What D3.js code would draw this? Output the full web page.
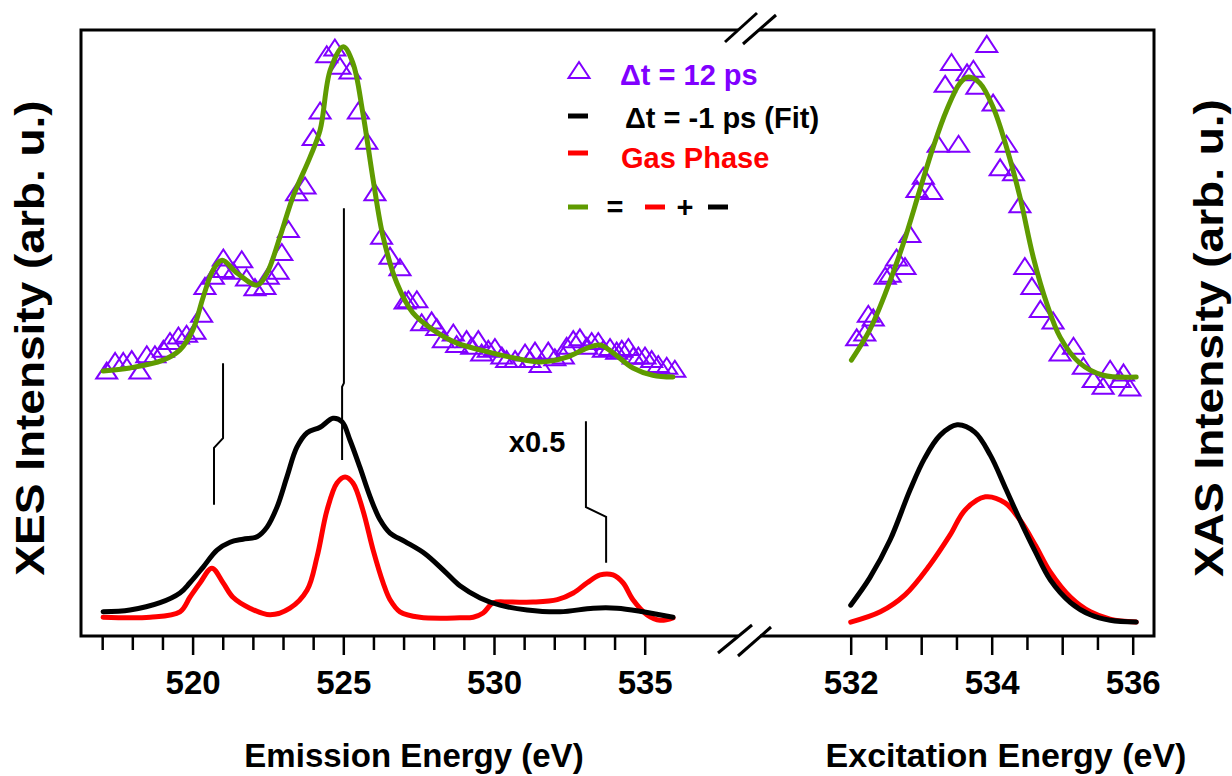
<!DOCTYPE html>
<html><head><meta charset="utf-8">
<script src="https://cdn.jsdelivr.net/npm/d3@7/dist/d3.min.js"></script>
<style>body{margin:0;background:#fff}svg{display:block}text{font-family:"Liberation Sans",Arial,sans-serif;font-weight:bold}</style>
</head><body>
<svg id="c" width="1232" height="776"></svg>
<script>
// ---------- data (energy eV, intensity arb. u. 0-100) ----------
const xesTicksMajor = [520, 525, 530, 535];
const xesTicksMinor = [517,518,519,521,522,523,524,526,527,528,529,531,532,533,534];
const xasTicksMajor = [532, 533, 534, 535, 536];
const xasTicksMinor = [532.5, 533.5, 534.5, 535.5];
const xasTickLabels = [532, 534, 536];

const xes12ps = [[517.15,43.7],[517.43,45.3],[517.70,45.3],[517.98,45.6],[518.25,43.7],[518.48,46.4],[518.75,46.4],[519.03,47.3],[519.25,48.6],[519.53,49.5],[519.80,49.8],[520.08,50.3],[520.30,53.1],[520.41,57.7],[520.69,59.4],[521.02,62.4],[521.02,60.5],[521.35,60.2],[521.63,62.1],[521.79,59.1],[522.07,57.5],[522.40,57.7],[522.51,59.4],[522.84,60.2],[522.96,63.3],[523.18,67.1],[523.45,73.2],[523.73,74.3],[524.00,82.3],[524.23,86.7],[524.45,96.0],[524.72,97.1],[524.89,94.1],[525.22,93.3],[525.50,86.7],[525.78,81.7],[526.05,73.2],[526.27,66.0],[526.55,62.7],[526.88,60.8],[527.05,55.3],[527.16,55.5],[527.44,55.5],[527.60,51.7],[527.93,52.0],[528.10,50.9],[528.32,48.9],[528.65,50.0],[528.76,48.1],[529.09,48.9],[529.26,47.8],[529.48,48.9],[529.59,46.7],[529.81,47.3],[530.03,47.6],[530.26,46.2],[530.42,45.6],[530.70,45.6],[531.03,46.7],[531.19,45.6],[531.36,47.0],[531.53,44.8],[531.80,47.0],[532.02,45.9],[532.30,46.2],[532.41,47.8],[532.63,48.9],[532.85,49.2],[533.08,47.8],[533.24,48.6],[533.46,48.6],[533.63,47.3],[533.85,47.6],[534.07,47.0],[534.24,47.3],[534.46,47.6],[534.62,46.2],[534.79,46.2],[535.01,46.2],[535.23,45.6],[535.45,44.8],[535.73,44.5],[536.00,44.0]];

const xesSum = [[517.03,43.8],[517.92,44.3],[519.02,45.6],[519.58,47.3],[520.01,50.6],[520.35,56.0],[520.68,60.5],[520.98,62.1],[521.47,60.0],[522.14,58.0],[522.47,60.0],[522.90,66.0],[523.33,72.6],[523.90,79.2],[524.23,83.6],[524.57,93.6],[525.00,97.4],[525.32,94.7],[525.65,86.4],[525.99,75.4],[526.32,66.0],[526.78,58.3],[527.31,53.4],[527.98,50.6],[528.77,48.4],[529.54,47.3],[530.53,46.1],[531.53,45.3],[532.42,46.1],[533.09,47.6],[533.52,48.1],[533.95,46.8],[534.61,44.3],[535.27,43.1],[535.94,42.8]];

const xesMinus1 = [[517.03,4.0],[517.92,4.3],[518.92,5.5],[519.58,7.1],[519.91,8.8],[520.35,11.4],[520.81,14.2],[521.24,15.5],[521.67,16.0],[522.14,16.4],[522.47,18.0],[522.80,21.3],[523.13,26.3],[523.46,31.2],[523.80,33.6],[524.23,34.5],[524.66,36.0],[524.96,35.4],[525.22,32.4],[525.55,27.9],[525.89,23.0],[526.22,19.2],[526.55,17.0],[527.05,15.6],[527.71,13.6],[528.38,10.6],[528.87,8.3],[529.54,6.3],[530.20,5.1],[531.10,4.3],[532.19,4.0],[533.29,4.6],[534.08,4.6],[534.95,4.0],[535.94,3.1]];

const xesGas = [[517.03,3.1],[518.59,3.1],[519.58,4.0],[519.91,6.4],[520.25,8.8],[520.64,11.2],[521.01,8.8],[521.34,6.4],[521.90,4.6],[522.57,3.5],[523.23,4.6],[523.80,7.6],[524.13,13.1],[524.46,20.8],[524.79,25.3],[525.06,26.3],[525.32,25.3],[525.65,20.8],[525.99,14.2],[526.32,8.8],[526.55,6.0],[526.88,4.0],[527.54,3.1],[528.87,3.0],[529.31,3.1],[529.64,3.8],[529.98,5.5],[530.54,5.6],[531.30,5.6],[532.10,6.0],[532.63,7.1],[533.09,8.8],[533.52,10.1],[533.95,10.1],[534.28,8.8],[534.61,6.0],[535.08,3.5],[535.51,2.6],[535.94,3.0]];

const xas12ps = [[532.085,49.2],[532.20,50.0],[532.25,53.1],[532.32,52.5],[532.49,59.4],[532.56,59.7],[532.65,62.4],[532.77,61.0],[532.84,66.3],[532.94,73.7],[533.03,75.9],[533.15,73.4],[533.24,81.2],[533.34,91.1],[533.43,94.7],[533.53,81.2],[533.65,93.0],[533.74,93.6],[533.79,90.8],[533.93,97.7],[534.02,88.0],[534.12,77.3],[534.21,81.2],[534.31,76.5],[534.40,71.2],[534.47,61.0],[534.57,57.7],[534.69,53.9],[534.87,52.0],[534.97,46.7],[535.16,47.8],[535.30,44.5],[535.44,42.3],[535.58,41.2],[535.68,44.0],[535.82,42.3],[535.87,43.4],[535.96,40.9]];

const xasSum = [[532.01,45.6],[532.27,50.6],[532.51,57.2],[532.75,65.0],[532.98,73.7],[533.17,80.8],[533.36,86.9],[533.55,91.4],[533.67,92.4],[533.83,91.4],[534.02,87.4],[534.21,80.8],[534.40,72.6],[534.59,62.6],[534.78,55.0],[534.97,49.4],[535.25,45.1],[535.58,43.1],[536.05,42.8]];

const xasMinus1 = [[532.00,5.1],[532.27,9.6],[532.56,15.9],[532.84,24.1],[533.05,29.4],[533.27,33.2],[533.51,34.9],[533.76,33.7],[533.98,29.9],[534.19,24.6],[534.40,19.2],[534.62,13.9],[534.83,9.3],[535.12,5.5],[535.40,3.5],[535.68,2.6],[536.05,2.3]];

const xasGas = [[532.00,2.3],[532.42,4.0],[532.77,6.8],[533.12,11.7],[533.41,16.7],[533.62,20.8],[533.91,23.0],[534.19,22.0],[534.40,19.2],[534.62,15.0],[534.83,10.6],[535.12,6.4],[535.40,4.0],[535.68,2.8],[536.05,2.3]];

// reference stick annotations (energy, intensity)
const sticks = [
  [[521.01,45.1],[521.01,32.7],[520.71,31.1],[520.71,21.7]],
  [[525.02,70.7],[525.02,41.8],[524.96,41.2],[524.96,29.1]],
  [[533.05,35.5],[533.05,21.3],[533.72,19.7],[533.72,12.1]]
];
const scaleNote = {label: "x0.5", e: 531.43, v: 30.4};

const legendItems = ["\u0394t = 12 ps", "\u0394t = -1 ps (Fit)", "Gas Phase"];
const xTitleL = "Emission Energy (eV)", xTitleR = "Excitation Energy (eV)";
const yTitleL = "XES Intensity (arb. u.)", yTitleR = "XAS Intensity (arb. u.)";

// ---------- drawing ----------
const PURPLE = "#8000ff", RED = "#ff0000", GREEN = "#5f9b00", BLACK = "#000";
const svg = d3.select("#c");
const fT = 30, fB = 636, fL = 81, fR = 1154;
const xL = d3.scaleLinear().domain([520, 535]).range([192.6, 644.7]);
const xR = d3.scaleLinear().domain([532, 536]).range([850.7, 1132.7]);
const y = d3.scaleLinear().domain([0, 100]).range([fB, fT + 1]);

// frame with break
svg.append("path").attr("fill","none").attr("stroke",BLACK).attr("stroke-width",3)
  .attr("d",`M738,${fT}H${fL}V${fB}H738`);
svg.append("path").attr("fill","none").attr("stroke",BLACK).attr("stroke-width",3)
  .attr("d",`M759,${fT}H${fR}V${fB}H760`);
[[725,42,757,13],[743,44,776,15],[718,653,752,625],[738,656,771,627]].forEach(s=>{
  svg.append("line").attr("x1",s[0]).attr("y1",s[1]).attr("x2",s[2]).attr("y2",s[3])
    .attr("stroke",BLACK).attr("stroke-width",3);
});

function ticks(scale, vals, len, labels){
  const g = svg.append("g").attr("transform",`translate(0,${fB})`)
    .call(d3.axisBottom(scale).tickValues(vals).tickSize(len).tickPadding(16)
      .tickFormat(d => labels && labels.includes(d) ? d3.format("d")(d) : ""));
  g.select(".domain").remove();
  g.selectAll(".tick line").attr("stroke",BLACK).attr("stroke-width",2.5);
  g.selectAll(".tick text").attr("fill",BLACK).style("font-size","33px").style("font-weight","bold")
    .style("font-family",'"Liberation Sans",Arial,sans-serif');
}
ticks(xL, xesTicksMajor, 19, xesTicksMajor);
ticks(xL, xesTicksMinor, 14, null);
ticks(xR, xasTicksMajor, 19, xasTickLabels);
ticks(xR, xasTicksMinor, 14, null);

// axis titles
svg.append("text").attr("x",414).attr("y",767).attr("text-anchor","middle").style("font-size","33px").text(xTitleL);
svg.append("text").attr("x",1006).attr("y",767).attr("text-anchor","middle").style("font-size","34px").text(xTitleR);
svg.append("text").attr("transform","translate(44,338) rotate(-90) scale(1.15,1)").attr("text-anchor","middle").style("font-size","40px").text(yTitleL);
svg.append("text").attr("transform","translate(1223,338) rotate(-90) scale(1.15,1)").attr("text-anchor","middle").style("font-size","40px").text(yTitleR);

// curves
function curve(xs, data, color, w){
  svg.append("path").datum(data).attr("fill","none").attr("stroke",color).attr("stroke-width",w)
    .attr("stroke-linejoin","round").attr("stroke-linecap","round")
    .attr("d", d3.line().x(d=>xs(d[0])).y(d=>y(d[1])).curve(d3.curveCatmullRom.alpha(0.5)));
}
// sticks
sticks.forEach(s=>{
  svg.append("path").datum(s).attr("fill","none").attr("stroke",BLACK).attr("stroke-width",2)
    .attr("d", d3.line().x(d=>xL(d[0])).y(d=>y(d[1])));
});
svg.append("text").attr("x",xL(scaleNote.e)).attr("y",y(scaleNote.v)).attr("text-anchor","middle")
  .style("font-size","29px").text(scaleNote.label);

curve(xL, xesGas, RED, 5);
curve(xL, xesMinus1, BLACK, 5);
curve(xR, xasGas, RED, 5);
curve(xR, xasMinus1, BLACK, 5);

const tri = "M0,-9L10.5,7L-10.5,7Z";
function markers(xs, data){
  svg.append("g").selectAll("path").data(data).join("path")
    .attr("d",tri).attr("fill","none").attr("stroke",PURPLE).attr("stroke-width",2)
    .attr("transform",d=>`translate(${xs(d[0])},${y(d[1])})`);
}
markers(xL, xes12ps);
markers(xR, xas12ps);
curve(xL, xesSum, GREEN, 5);
curve(xR, xasSum, GREEN, 5);

// legend
const lg = svg.append("g");
lg.append("path").attr("d",tri).attr("fill","none").attr("stroke",PURPLE).attr("stroke-width",2)
  .attr("transform","translate(579,71)");
lg.append("text").attr("x",620).attr("y",85).attr("fill",PURPLE).style("font-size","29px").text(legendItems[0]);
lg.append("line").attr("x1",568).attr("x2",588).attr("y1",116).attr("y2",116).attr("stroke",BLACK).attr("stroke-width",5);
lg.append("text").attr("x",625).attr("y",128).attr("fill",BLACK).style("font-size","29px").text(legendItems[1]);
lg.append("line").attr("x1",568).attr("x2",588).attr("y1",153).attr("y2",153).attr("stroke",RED).attr("stroke-width",5);
lg.append("text").attr("x",621).attr("y",168).attr("fill",RED).style("font-size","29px").text(legendItems[2]);
lg.append("line").attr("x1",568).attr("x2",588).attr("y1",207).attr("y2",207).attr("stroke",GREEN).attr("stroke-width",5);
lg.append("text").attr("x",615).attr("y",217).attr("text-anchor","middle").style("font-size","29px").text("=");
lg.append("line").attr("x1",645).attr("x2",665).attr("y1",207).attr("y2",207).attr("stroke",RED).attr("stroke-width",5);
lg.append("text").attr("x",685).attr("y",217).attr("text-anchor","middle").style("font-size","29px").text("+");
lg.append("line").attr("x1",708).attr("x2",728).attr("y1",207).attr("y2",207).attr("stroke",BLACK).attr("stroke-width",5);
</script>
</body></html>
